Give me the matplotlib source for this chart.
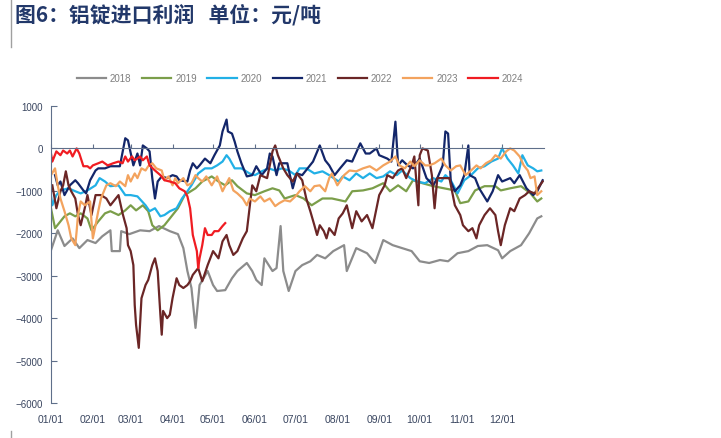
import matplotlib
matplotlib.use("Agg")
import matplotlib.pyplot as plt
from matplotlib.lines import Line2D

plt.rcParams['font.family'] = ['Liberation Sans', 'Noto Sans CJK SC', 'DejaVu Sans']

# x values are day of year (0 = 01/01)
d2018 = [0, 5, 10, 16, 21, 27, 33, 38, 44, 45, 51, 52, 58, 66, 73, 80, 88, 94, 98, 101,
         104, 107, 110, 116, 120, 123, 129, 134, 138, 145, 149, 152, 156, 158, 164, 167, 170, 172, 176, 181,
         186, 192, 197, 203, 209, 217, 219, 226, 234, 240, 246, 253, 260, 267, 273, 280, 288, 294, 301, 309,
         316, 323, 331, 334, 340, 348, 354, 360, 363]
v2018 = [-2400, -1930, -2300, -2120, -2350, -2160, -2230, -2070, -1930, -2420, -2420, -1950, -2020, -1930, -1950, -1830, -1950, -2020, -2350, -2890,
         -3290, -4230, -3220, -2890, -3220, -3360, -3340, -3060, -2890, -2700, -2890, -3100, -3220, -2590, -2890, -2820, -1830, -2890, -3360, -2890,
         -2750, -2660, -2510, -2590, -2420, -2280, -2890, -2350, -2470, -2700, -2160, -2280, -2350, -2420, -2660, -2700, -2630, -2660, -2470, -2420,
         -2300, -2280, -2400, -2590, -2420, -2280, -2000, -1650, -1600]

d2019 = [0, 3, 7, 10, 14, 18, 22, 27, 30, 35, 40, 44, 50, 55, 59, 63, 68, 72, 75, 79,
         84, 90, 94, 99, 107, 112, 119, 124, 129, 134, 138, 145, 151, 158, 164, 169, 173, 181, 187, 193,
         201, 208, 218, 223, 231, 238, 246, 251, 257, 263, 268, 275, 283, 299, 303, 309, 314, 321, 329, 333,
         340, 348, 355, 360, 363]
v2019 = [-1410, -1880, -1720, -1600, -1530, -1600, -1530, -1650, -1930, -1720, -1530, -1480, -1570, -1460, -1340, -1460, -1340, -1480, -1810, -1930,
         -1810, -1570, -1410, -1100, -940, -780, -660, -780, -870, -750, -890, -1060, -1100, -1010, -940, -990, -1180, -1100, -1180, -1340,
         -1180, -1180, -1250, -1010, -990, -940, -820, -1010, -870, -1010, -750, -820, -890, -990, -1290, -1250, -990, -890, -890, -990,
         -940, -890, -1060, -1250, -1180]

d2020 = [0, 1, 4, 7, 13, 18, 22, 27, 33, 36, 40, 44, 50, 55, 59, 64, 70, 73, 77, 81,
         84, 88, 93, 97, 101, 104, 109, 114, 119, 123, 127, 130, 132, 136, 141, 147, 151, 156, 161, 166,
         171, 176, 181, 184, 189, 195, 201, 206, 213, 216, 221, 226, 231, 236, 241, 246, 251, 256, 260, 266,
         271, 277, 283, 289, 292, 296, 301, 306, 311, 316, 321, 326, 331, 334, 338, 342, 346, 349, 353, 357,
         360, 363]
v2020 = [-1100, -1340, -1100, -990, -940, -1010, -1060, -990, -870, -700, -780, -890, -870, -1100, -1100, -1130, -1340, -1480, -1410, -1600,
         -1570, -1480, -1410, -1180, -1010, -870, -590, -470, -470, -400, -310, -160, -240, -470, -470, -590, -630, -540, -470, -520,
         -470, -520, -630, -470, -470, -590, -540, -630, -780, -660, -750, -590, -700, -590, -700, -660, -540, -630, -520, -700,
         -780, -820, -700, -780, -630, -750, -1060, -750, -630, -470, -420, -310, -240, 0, -240, -400, -590, -160, -400, -470,
         -540, -520]

d2021 = [3, 5, 7, 10, 14, 18, 20, 24, 26, 29, 33, 35, 40, 44, 51, 55, 57, 61, 64, 66,
         68, 71, 73, 75, 77, 79, 82, 86, 90, 93, 95, 101, 103, 105, 108, 110, 114, 118, 121, 125,
         127, 130, 131, 134, 136, 138, 141, 145, 149, 152, 156, 160, 162, 164, 167, 169, 175, 179, 182, 186,
         194, 199, 203, 206, 210, 214, 219, 223, 229, 233, 236, 241, 243, 249, 252, 255, 257, 260, 264, 268,
         273, 278, 283, 286, 290, 292, 294, 296, 299, 303, 306, 309, 310, 314, 317, 323, 327, 331, 334, 340,
         343, 347, 352, 357, 360, 364]
v2021 = [-630, -870, -780, -1100, -870, -750, -820, -990, -1060, -750, -520, -470, -470, -420, -420, 240, 190, -400, -120, -400,
         70, 0, -70, -700, -1180, -780, -660, -700, -630, -660, -750, -780, -520, -350, -470, -400, -240, -350, -160, 70,
         400, 680, 400, 350, 160, -70, -350, -660, -630, -420, -630, -470, -120, -190, -630, -350, -350, -940, -590, -630,
         -310, 70, -280, -400, -630, -470, -280, -310, 120, -120, -120, 0, -160, -240, -310, 630, -400, -280, -400, -470,
         -240, -700, -870, -700, -400, 400, 350, -780, -1010, -870, -630, 70, -630, -700, -940, -1250, -1010, -630, -780, -700,
         -820, -630, -940, -1100, -1010, -750]

d2022 = [1, 4, 7, 9, 11, 13, 15, 18, 20, 22, 25, 27, 30, 33, 37, 41, 44, 50, 53, 56,
         57, 59, 61, 62, 63, 65, 67, 70, 72, 75, 77, 79, 81, 82, 83, 86, 88, 90, 93, 95,
         98, 101, 103, 105, 109, 112, 116, 120, 124, 127, 130, 132, 135, 138, 142, 145, 147, 149, 152, 155,
         160, 162, 164, 166, 168, 172, 175, 179, 182, 186, 189, 192, 195, 197, 199, 202, 204, 206, 210, 213,
         216, 219, 223, 226, 230, 234, 238, 241, 243, 247, 249, 253, 257, 260, 263, 267, 269, 272, 273, 275,
         279, 282, 284, 286, 289, 292, 295, 299, 303, 305, 309, 312, 315, 317, 321, 325, 329, 331, 333, 336,
         340, 343, 347, 351, 354, 358, 362, 364]
v2022 = [-870, -1410, -1010, -870, -540, -870, -1010, -1180, -1570, -1810, -1410, -1100, -1570, -1100, -1100, -1180, -1340, -1100, -1530, -1880,
         -2280, -2420, -2750, -3690, -4160, -4700, -3530, -3220, -3100, -2750, -2590, -2890, -3920, -4390, -3830, -4000, -3920, -3530, -3060, -3220,
         -3290, -3220, -3130, -2980, -2820, -3130, -2750, -2420, -2590, -2190, -2040, -2280, -2510, -2420, -2120, -1950, -1410, -870, -1010, -630,
         -700, -400, -70, 70, -160, -470, -630, -780, -590, -750, -1180, -1480, -1810, -2040, -1810, -1950, -2120, -1880, -2040, -1650,
         -1530, -1340, -1880, -1480, -1720, -1570, -1880, -1410, -1100, -870, -630, -700, -520, -470, -700, -400, -190, -1340, -160, 0,
         -50, -630, -1410, -700, -700, -700, -700, -1340, -1570, -1810, -1950, -1880, -2120, -1810, -1570, -1410, -1570, -1950, -2280, -1810,
         -1410, -1480, -1180, -1100, -1010, -1060, -870, -780]

d2023 = [0, 3, 5, 7, 10, 13, 15, 18, 19, 20, 22, 25, 29, 30, 31, 33, 35, 37, 41, 44,
         48, 51, 55, 57, 59, 62, 64, 67, 70, 72, 75, 78, 82, 84, 87, 90, 92, 94, 98, 101,
         104, 107, 109, 112, 115, 119, 123, 127, 130, 132, 135, 138, 142, 145, 147, 151, 155, 158, 162, 166,
         169, 173, 177, 181, 184, 188, 192, 195, 199, 203, 206, 208, 212, 217, 221, 226, 231, 236, 241, 246,
         251, 255, 258, 262, 266, 269, 273, 277, 280, 284, 289, 292, 296, 300, 303, 307, 311, 315, 318, 322,
         326, 329, 333, 337, 340, 343, 347, 350, 353, 355, 358, 360, 363]
v2023 = [-630, -470, -870, -1180, -1480, -1810, -2120, -2280, -1950, -1570, -1250, -1340, -1250, -1720, -2120, -1810, -1480, -1180, -870, -820,
         -890, -780, -890, -630, -780, -590, -700, -470, -520, -420, -350, -470, -520, -750, -660, -870, -700, -820, -700, -870,
         -820, -630, -700, -780, -660, -870, -660, -1010, -820, -700, -990, -1060, -1180, -1340, -1180, -1250, -1130, -1250, -1180, -1360,
         -1290, -1220, -1250, -1130, -1010, -890, -1010, -890, -870, -1010, -700, -590, -870, -630, -520, -540, -470, -420, -520, -400,
         -310, -190, -400, -470, -310, -420, -280, -400, -400, -350, -240, -400, -520, -420, -400, -630, -520, -400, -470, -350,
         -280, -160, -240, -70, 0, -50, -190, -400, -520, -700, -660, -1100, -1010]

d2024 = [0, 1, 4, 7, 9, 12, 14, 16, 19, 21, 24, 27, 29, 31, 35, 38, 42, 46, 50, 53,
         55, 57, 60, 62, 66, 68, 71, 73, 77, 81, 84, 88, 92, 95, 99, 101, 103, 104, 105, 108,
         109, 110, 112, 114, 116, 119, 121, 124, 127, 129]
v2024 = [-120, -310, -70, -160, -50, -120, -50, -190, 0, -120, -420, -420, -470, -400, -350, -310, -400, -350, -310, -350,
         -190, -310, -190, -280, -190, -280, -190, -400, -520, -630, -750, -780, -820, -940, -1010, -1130, -1410, -1720, -2040, -2420,
         -2820, -2590, -2280, -1880, -2040, -2040, -1950, -1950, -1830, -1760]

years = ['2018', '2019', '2020', '2021', '2022', '2023', '2024']
colors = ['#8c8c8c', '#7b9e4a', '#22b0e6', '#13266a', '#6b2626', '#f3a35e', '#f01c22']
month_starts = [0, 31, 59, 90, 120, 151, 181, 212, 243, 273, 304, 334]
month_labels = ['01/01', '02/01', '03/01', '04/01', '05/01', '06/01',
                '07/01', '08/01', '09/01', '10/01', '11/01', '12/01']

series = [(d2018, v2018), (d2019, v2019), (d2020, v2020), (d2021, v2021),
          (d2022, v2022), (d2023, v2023), (d2024, v2024)]

fig = plt.figure(figsize=(7.21, 4.39), dpi=100)
ax = fig.add_axes([0.0707, 0.0797, 0.6838, 0.6766])

for (xs, ys), yr, c in zip(series, years, colors):
    ax.plot(xs, ys, color=c, lw=1.6, label=yr)

axis_col = '#5f6f8a'
ax.set_xlim(0, 365)
ax.set_ylim(-6000, 1000)
ax.set_yticks(range(-6000, 1001, 1000))
for s in ['top', 'right']:
    ax.spines[s].set_visible(False)
ax.spines['left'].set_color(axis_col)
ax.spines['bottom'].set_color(axis_col)
ax.spines['bottom'].set_position(('data', 0))
ax.set_xticks(month_starts)
ax.tick_params(axis='x', direction='in', length=3, color=axis_col, labelbottom=False)
ax.tick_params(axis='y', direction='in', length=4, color=axis_col,
               labelsize=7, labelcolor='#3a4660', pad=6)

# month labels sit at the bottom of the plot, the axis line runs through zero
sec = ax.secondary_xaxis('bottom')
sec.spines['bottom'].set_visible(False)
sec.set_xticks(month_starts, month_labels)
sec.tick_params(length=0, labelsize=7.5, labelcolor='#3a4660', pad=8)

fig.legend(loc='center', bbox_to_anchor=(0.416, 0.820), ncol=7, frameon=False,
           fontsize=7, handlelength=3, handletextpad=0.4, columnspacing=1.1,
           labelcolor='#7f7f7f')

fig.text(0.021, 0.966, '图6：铝锭进口利润   单位：元/吨', fontsize=15, fontweight='bold',
         color='#22386a', va='center', ha='left',
         family=['Noto Sans CJK SC', 'DejaVu Sans'])
fig.add_artist(Line2D([0.0153, 0.0153], [0.89, 1.0], color='#a0a0a0', lw=1))
fig.add_artist(Line2D([0.0153, 0.0153], [0.0, 0.016], color='#a0a0a0', lw=1))

fig.savefig('out.png', dpi=100)
